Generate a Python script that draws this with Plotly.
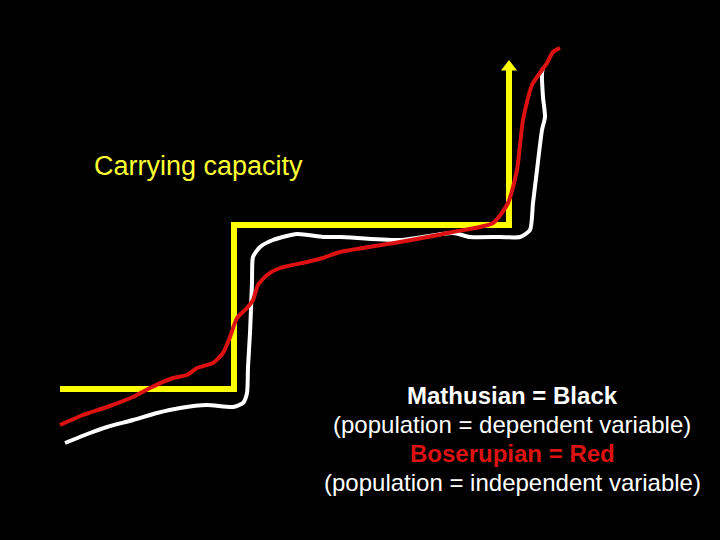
import plotly.graph_objects as go

# Carrying capacity step line (screen-space units, y downward)
cap_x = [60, 234, 234, 509, 509]
cap_y = [389, 389, 225, 225, 70]
arrow_x = [509]
arrow_y = [67]

# Malthusian (white) curve
mal_x = [65, 90, 107, 133, 157, 180, 207, 233, 243, 247, 248, 250, 252, 253, 260, 273, 297, 323, 340,
         400, 453, 470, 500, 520, 530, 533, 537, 542, 545, 543, 542, 543]
mal_y = [443, 433, 427, 420, 413, 408, 405, 407, 403, 393, 367, 333, 283, 257, 247, 240, 234, 237, 237,
         240, 233, 237, 237, 237, 230, 203, 170, 130, 117, 97, 73, 68]

# Boserupian (red) curve
bos_x = [60, 83, 107, 133, 150, 173, 187, 197, 213, 223, 230, 237, 247, 253, 258, 267, 280, 307, 323, 340,
         400, 453, 493, 508, 517, 523, 532, 547, 553, 560]
bos_y = [425, 415, 407, 397, 388, 378, 375, 368, 363, 353, 337, 318, 308, 300, 285, 275, 268, 262, 258, 252,
         242, 232, 223, 203, 170, 120, 85, 63, 52, 48]

fig = go.Figure()
fig.add_trace(go.Scatter(x=cap_x, y=cap_y, mode="lines",
                         line=dict(color="#ffff00", width=6), hoverinfo="skip"))
fig.add_trace(go.Scatter(x=arrow_x, y=arrow_y, mode="markers",
                         marker=dict(symbol="triangle-up", size=14, color="#ffff00"), hoverinfo="skip"))
fig.add_trace(go.Scatter(x=mal_x, y=mal_y, mode="lines",
                         line=dict(color="#ffffff", width=4, shape="spline", smoothing=0.6), hoverinfo="skip"))
fig.add_trace(go.Scatter(x=bos_x, y=bos_y, mode="lines",
                         line=dict(color="#dd1111", width=4, shape="spline", smoothing=0.6), hoverinfo="skip"))

font = "Liberation Sans, Arial, sans-serif"
fig.add_annotation(x=92, y=166, text="Carrying capacity", showarrow=False, xanchor="left", yanchor="middle",
                   font=dict(family=font, size=27, color="#ffff33"))
lines = [("<b>Mathusian = Black</b>", "#ffffff", 395),
         ("(population = dependent variable)", "#ffffff", 424),
         ("<b>Boserupian = Red</b>", "#dd1111", 453),
         ("(population = independent variable)", "#ffffff", 482)]
for txt, col, yy in lines:
    fig.add_annotation(x=512, y=yy, text=txt, showarrow=False, xanchor="center", yanchor="middle",
                       font=dict(family=font, size=24, color=col))

fig.update_layout(width=720, height=540, margin=dict(l=0, r=0, t=0, b=0),
                  paper_bgcolor="black", plot_bgcolor="black", showlegend=False,
                  xaxis=dict(range=[0, 720], visible=False, fixedrange=True),
                  yaxis=dict(range=[540, 0], visible=False, fixedrange=True))
fig.write_html("out.html", config={"displayModeBar": False},
               post_script="document.body.style.margin='0';document.body.style.background='black';")
